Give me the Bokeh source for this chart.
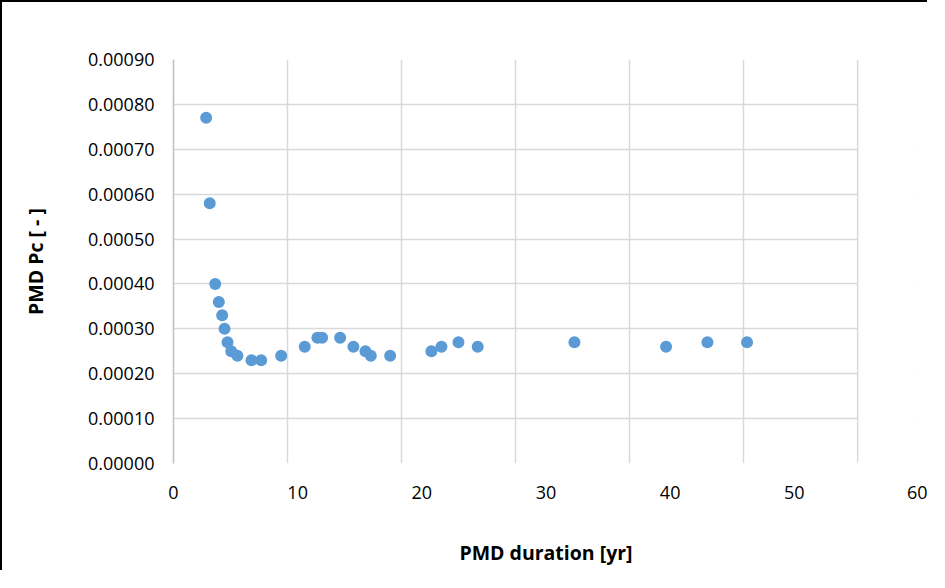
from bokeh.plotting import figure
from bokeh.models import Range1d, FixedTicker, NumeralTickFormatter, BoxAnnotation, Span, Grid
from bokeh.embed import file_html
from bokeh.resources import INLINE

# data (PMD duration [yr], PMD Pc [-])
duration = [2.63, 2.92, 3.36, 3.65, 3.92, 4.11, 4.35, 4.65, 5.15, 6.28, 7.06,
            8.67, 10.57, 11.59, 11.97, 13.42, 14.49, 15.46, 15.89, 17.45,
            20.77, 21.58, 22.95, 24.50, 32.29, 39.67, 43.0, 46.19]
pc = [0.00077, 0.00058, 0.00040, 0.00036, 0.00033, 0.00030, 0.00027, 0.00025,
      0.00024, 0.00023, 0.00023, 0.00024, 0.00026, 0.00028, 0.00028, 0.00028,
      0.00026, 0.00025, 0.00024, 0.00024, 0.00025, 0.00026, 0.00027, 0.00026,
      0.00027, 0.00026, 0.00027, 0.00027]
x_ticks = [0, 10, 20, 30, 40, 50, 60]
y_ticks = [i / 10000 for i in range(10)]

X_MAX = 60
AREA_END = 55.1  # right edge of the drawn plot area
FONT = "Open Sans"

p = figure(width=927, height=570, output_backend="svg", toolbar_location=None,
           x_range=Range1d(0, X_MAX), y_range=Range1d(0, 0.0009),
           min_border_left=171, min_border_right=11, min_border_top=57,
           min_border_bottom=109)
p.styles = {"border-left": "2px solid #000", "border-top": "2px solid #000"}
p.outline_line_color = None
p.background_fill_color = "white"
p.border_fill_color = "white"

p.scatter(duration, pc, size=12, color="#5b9bd5", line_color=None)

# axes
for ax in (p.xaxis[0], p.yaxis[0]):
    ax.major_tick_out = 0
    ax.major_tick_in = 0
    ax.minor_tick_out = 0
    ax.minor_tick_in = 0
    ax.major_label_text_font = FONT
    ax.major_label_text_font_size = "18px"
    ax.major_label_text_color = "#000000"
    ax.axis_label_text_font = FONT
    ax.axis_label_text_font_style = "bold"
    ax.axis_label_text_font_size = "19.5px"
    ax.axis_label_text_color = "#000000"

p.xaxis.ticker = FixedTicker(ticks=x_ticks)
p.xaxis.axis_line_color = None
p.xaxis.major_label_standoff = 22
p.xaxis.axis_label = "PMD duration [yr]"
p.xaxis.axis_label_standoff = 37

p.yaxis.ticker = FixedTicker(ticks=y_ticks)
p.yaxis.formatter = NumeralTickFormatter(format="0.00000")
p.yaxis.axis_line_color = "#bfbfbf"
p.yaxis.axis_line_width = 1.5
p.yaxis.major_label_standoff = 19
p.yaxis.axis_label = "PMD Pc [ - ]"
p.yaxis.axis_label_standoff = 36

# grids: plot area divided in six equal columns
p.xgrid.ticker = FixedTicker(ticks=[i * AREA_END / 6 for i in range(6)])
p.ygrid.ticker = FixedTicker(ticks=y_ticks)
for g in (p.xgrid[0], p.ygrid[0]):
    g.grid_line_color = "#d9d9d9"
    g.grid_line_width = 1.5

# blank out the part of the frame right of the plot area
p.add_layout(BoxAnnotation(left=AREA_END, fill_color="white", fill_alpha=1.0,
                           line_color=None, level="annotation"))
p.add_layout(Span(location=AREA_END, dimension="height", line_color="#d9d9d9",
                  line_width=1.5, level="annotation"))
# darker bottom axis line of the plot area
p.add_layout(Grid(dimension=1, ticker=FixedTicker(ticks=[0]), grid_line_color="#bfbfbf",
                  grid_line_width=1.5, bounds=(0, 0)))
p.add_layout(BoxAnnotation(left=AREA_END, top=0.000004, fill_color="white", fill_alpha=1.0,
                           line_color=None, level="annotation"))

open("out.html", "w").write(file_html(p, INLINE))
